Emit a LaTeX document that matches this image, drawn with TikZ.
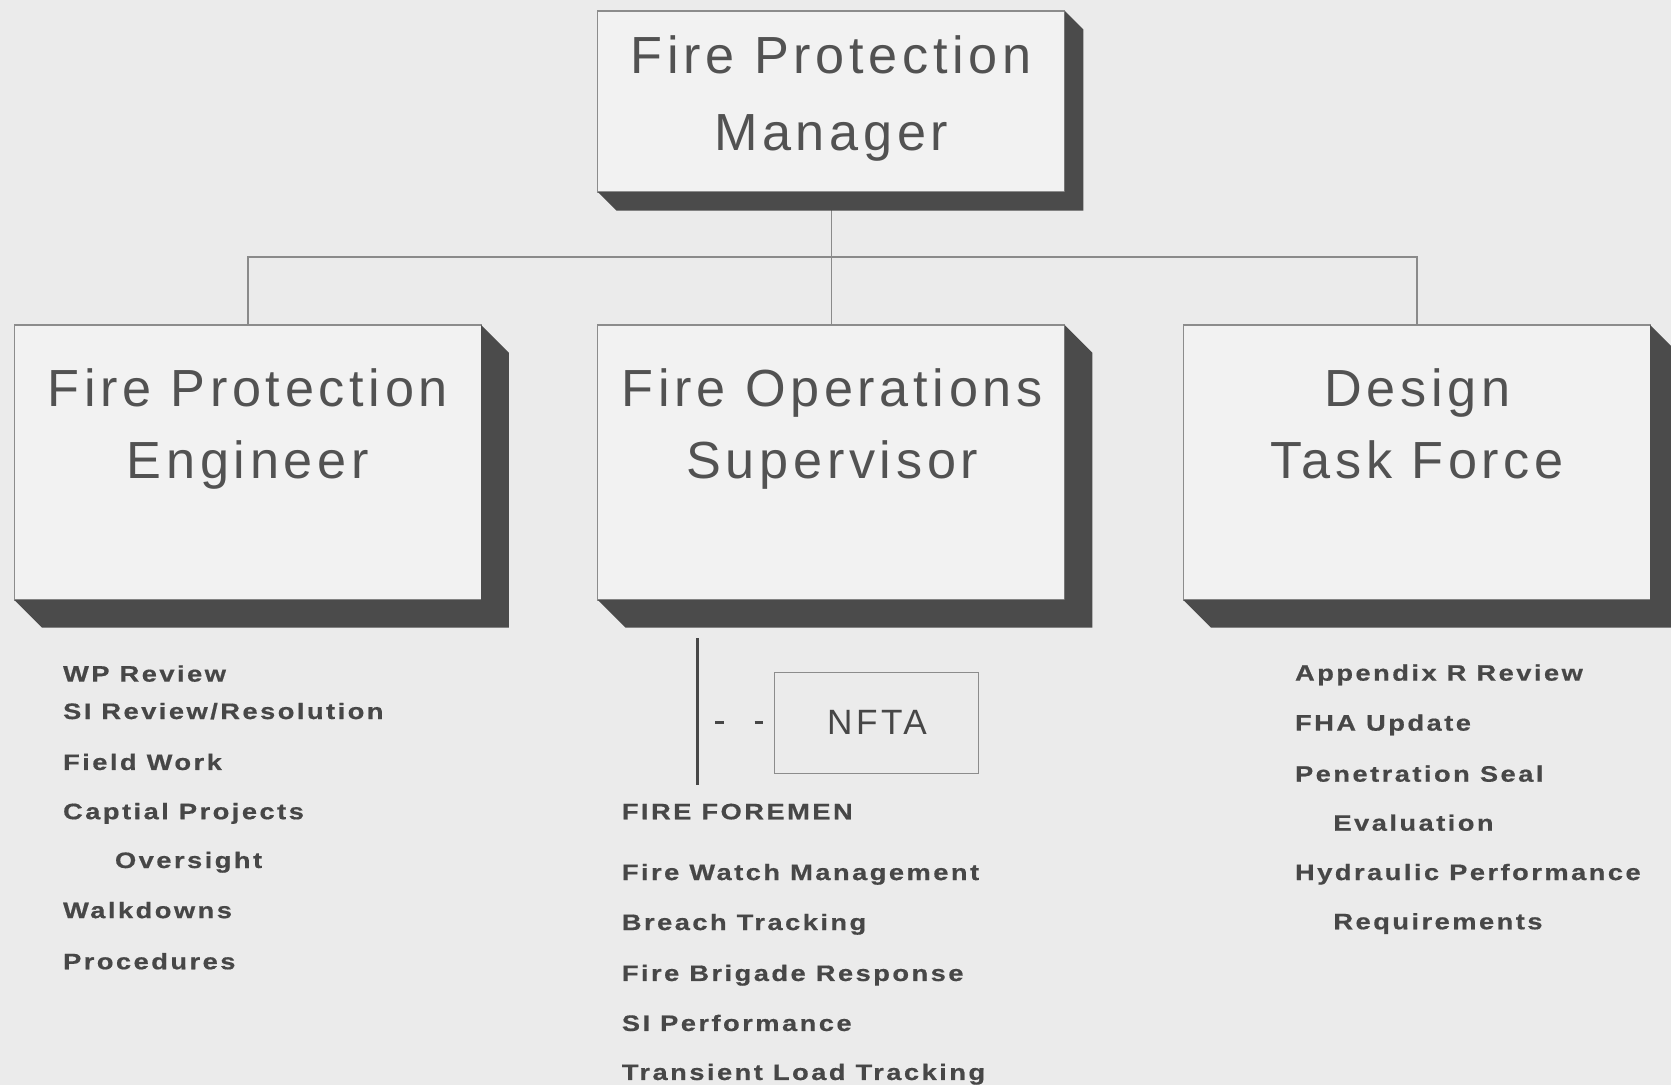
\documentclass[tikz,border=0pt]{standalone}
\usepackage{fontspec}
\setmainfont{Liberation Sans}
\newfontfamily\ttlfont{Liberation Sans}[LetterSpace=9]
\newfontfamily\nftafont{Liberation Sans}[LetterSpace=10]
\newfontfamily\itmfont{Liberation Sans}[LetterSpace=11,FakeStretch=1.22,FakeBold=0.6]
\usetikzlibrary{calc}
\definecolor{bgc}{HTML}{EBEBEB}
\definecolor{face}{HTML}{F2F2F2}
\definecolor{boxline}{HTML}{8C8C8C}
\definecolor{shadec}{HTML}{4B4B4B}
\definecolor{connc}{HTML}{8A8A8A}
\definecolor{ttlc}{HTML}{525252}
\definecolor{itmc}{HTML}{474747}
\begin{document}
\begin{tikzpicture}[x=1pt,y=-1pt,
  bx/.style={draw=boxline, fill=face, line width=1.2pt, outer sep=0pt, inner sep=0pt, minimum width=438pt},
  ttl/.style={anchor=base, inner sep=0pt, text=ttlc, font=\ttlfont\fontsize{49}{58}\selectfont},
  itm/.style={anchor=base west, inner sep=0pt, text=itmc, font=\itmfont\bfseries\fontsize{21}{25}\selectfont},
  cn/.style={draw=connc, line width=1.4pt},
  shd/.style={fill=shadec}
]
\useasboundingbox (0,0) rectangle (1568,1018);
\fill[bgc] (0,0) rectangle (1568,1018);

% boxes
\node[bx, minimum height=170pt] (fpm) at (780,95.2) {};
\node[bx, minimum height=258pt] (fpe) at (232.5,434) {};
\node[bx, minimum height=258pt] (fos) at (780,434) {};
\node[bx, minimum height=258pt] (dtf) at (1329.5,434) {};

% connectors
\draw[cn] (fpm.south) -- (fos.north);
\draw[cn] (fpe.north) -- (fpe.north |- 0,241) -| (dtf.north);

% 3D shadows
\foreach \b/\d in {fpm/17.5, fpe/26, fos/26, dtf/26}{
  \fill[shd] (\b.north east) -- ([shift={(\d,\d)}]\b.north east)
     -- ([shift={(\d,\d)}]\b.south east) -- ([shift={(\d,\d)}]\b.south west)
     -- (\b.south west) -- (\b.south east) -- cycle;
}

% titles
\node[ttl] (t1a) at (780,69.4) {Fire Protection};
\node[ttl] (t1b) at (780,141) {Manager};
\node[ttl] (t2a) at (232.5,381) {Fire Protection};
\node[ttl] (t2b) at (232.5,449) {Engineer};
\node[ttl] (t3a) at (781,381) {Fire Operations};
\node[ttl] (t3b) at (781,449) {Supervisor};
\node[ttl] (t4a) at (1330,381) {Design};
\node[ttl] (t4b) at (1330,449) {Task Force};

% NFTA
\coordinate (vtop) at (654.3,599);
\coordinate (vbot) at (654.3,737);
\draw[draw=itmc, line width=3pt] (vtop) -- (vbot);
\node[draw=boxline, line width=1.2pt, minimum width=191pt, minimum height=95pt, inner sep=0pt, outer sep=0pt] (nfta) at (822.5,678.5) {};
\node[anchor=base, inner sep=0pt, text=itmc, font=\nftafont\fontsize{33}{40}\selectfont] (nftat) at (823,689.6) {NFTA};
\coordinate (dst) at (671,678);
\draw[draw=itmc, line width=2pt, dash pattern=on 8pt off 29pt] (dst) -- (nfta.west |- dst);

% left list
\node[itm] (l1) at (59,639.6) {WP Review};
\node[itm] (l2) at (59,674.7) {SI Review/Resolution};
\node[itm] (l3) at (59,722.5) {Field Work};
\node[itm] (l4) at (59,768.7) {Captial Projects};
\node[itm] (l5) at (107.7,814.5) {Oversight};
\node[itm] (l6) at (59,861.5) {Walkdowns};
\node[itm] (l7) at (59,909.5) {Procedures};

% middle list
\node[itm] (m1) at (583.3,768.8) {FIRE FOREMEN};
\node[itm] (m2) at (583.3,825.8) {Fire Watch Management};
\node[itm] (m3) at (583.3,872.7) {Breach Tracking};
\node[itm] (m4) at (583.3,920.5) {Fire Brigade Response};
\node[itm] (m5) at (583.3,967.4) {SI Performance};
\node[itm] (m6) at (583.3,1013.4) {Transient Load Tracking};

% right list
\node[itm] (r1) at (1215,638.7) {Appendix R Review};
\node[itm] (r2) at (1215,685.6) {FHA Update};
\node[itm] (r3) at (1215,733.5) {Penetration Seal};
\node[itm] (r4) at (1251,779.5) {Evaluation};
\node[itm] (r5) at (1215,825.8) {Hydraulic Performance};
\node[itm] (r6) at (1251,872) {Requirements};
\end{tikzpicture}
\end{document}
